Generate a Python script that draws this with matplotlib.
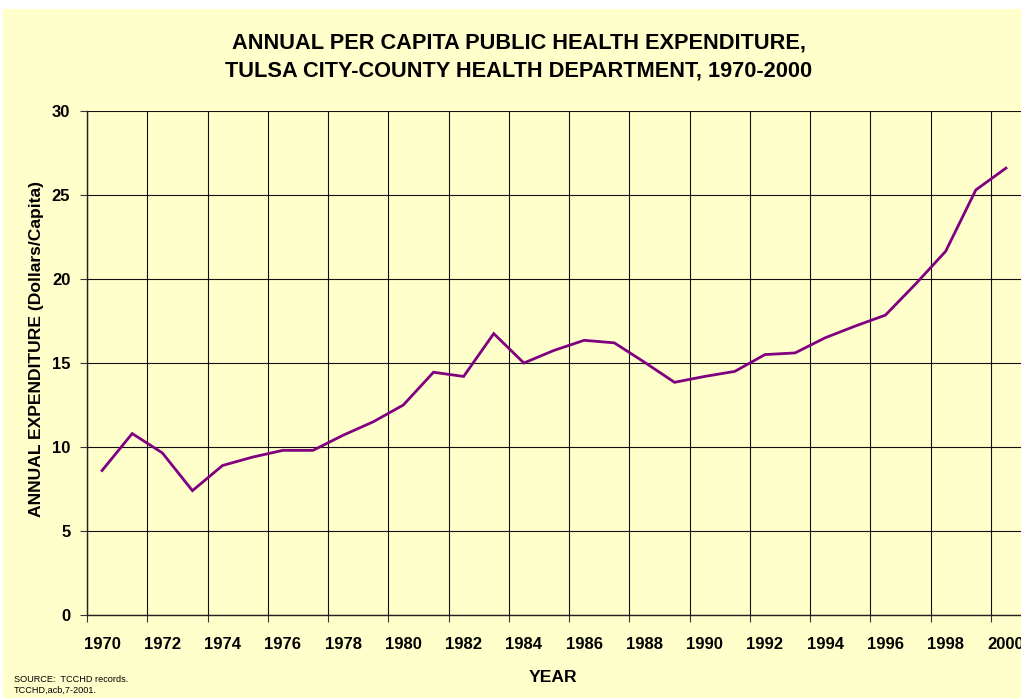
import matplotlib
matplotlib.use("Agg")
import matplotlib.pyplot as plt
from matplotlib.patches import Rectangle

years = list(range(1970, 2001))
expenditure = [8.6, 10.8, 9.65, 7.4, 8.9, 9.4, 9.8, 9.8, 10.7, 11.5, 12.5,
               14.45, 14.2, 16.75, 15.0, 15.75, 16.35, 16.2, 15.05, 13.85,
               14.2, 14.5, 15.5, 15.6, 16.5, 17.2, 17.85, 19.7, 21.65, 25.3, 26.6]
year_labels = [str(y) for y in range(1970, 2001, 2)]
y_ticks = [0, 5, 10, 15, 20, 25, 30]

plt.rcParams['font.family'] = ['Liberation Sans', 'DejaVu Sans']
bg = '#FFFFCC'

W, H = 1021, 698
fig = plt.figure(figsize=(W / 100, H / 100), dpi=100, facecolor='white')
fig.patches.append(Rectangle((3 / W, 0), 1 - 3 / W, 1 - 9 / H, transform=fig.transFigure,
                             facecolor=bg, edgecolor='none', zorder=-10))

ax = fig.add_axes([87 / W, 1 - 615 / H, (1021 - 87) / W, (615 - 111) / H])
ax.set_facecolor(bg)

idx = list(range(len(years)))
ax.plot(idx, expenditure, color='#800080', lw=2.0, zorder=3, solid_joinstyle='miter')

ax.set_xlim(-0.5, len(years) - 0.5)
ax.set_ylim(0, 30)

# boundaries (gridlines + tick marks)
ax.set_xticks([i - 0.5 for i in range(0, len(years), 2)])
ax.set_xticklabels([])
ax.set_xticks(list(range(0, len(years), 2)), minor=True)
ax.set_xticklabels(year_labels, minor=True, fontsize=12, fontweight='bold')
ax.tick_params(axis='x', which='major', length=5, width=0.8, color='#333333')
ax.tick_params(axis='x', which='minor', length=0, pad=15.5)

ax.set_yticks(y_ticks)
ax.set_yticklabels([str(v) for v in y_ticks], fontsize=12, fontweight='bold')
ax.tick_params(axis='y', length=5, width=0.8, color='#333333', pad=7)

ax.grid(True, which='major', color='#111111', lw=0.8)
ax.set_axisbelow(True)
for s in ['top', 'right']:
    ax.spines[s].set_visible(False)
for s in ['left', 'bottom']:
    ax.spines[s].set_color('#222222')
    ax.spines[s].set_linewidth(1.0)

fig.text(37 / W, 1 - 349 / H, 'ANNUAL EXPENDITURE (Dollars/Capita)', rotation=90,
         ha='center', va='center', fontsize=12.6, fontweight='bold')
fig.text(553 / W, 1 - 677 / H, 'YEAR', ha='center', va='center',
         fontsize=12.6, fontweight='bold')

fig.text(519 / W, 1 - 49 / H, 'ANNUAL PER CAPITA PUBLIC HEALTH EXPENDITURE,',
         ha='center', va='baseline', fontsize=15.7, fontweight='bold')
fig.text(519 / W, 1 - 76 / H, 'TULSA CITY-COUNTY HEALTH DEPARTMENT, 1970-2000',
         ha='center', va='baseline', fontsize=15.7, fontweight='bold')

fig.text(14 / W, 1 - 679 / H, 'SOURCE:  TCCHD records.', ha='left', va='center', fontsize=6.6)
fig.text(14 / W, 1 - 690 / H, 'TCCHD,acb,7-2001.', ha='left', va='center', fontsize=6.6)

fig.savefig('out.png', dpi=100, facecolor='white')
